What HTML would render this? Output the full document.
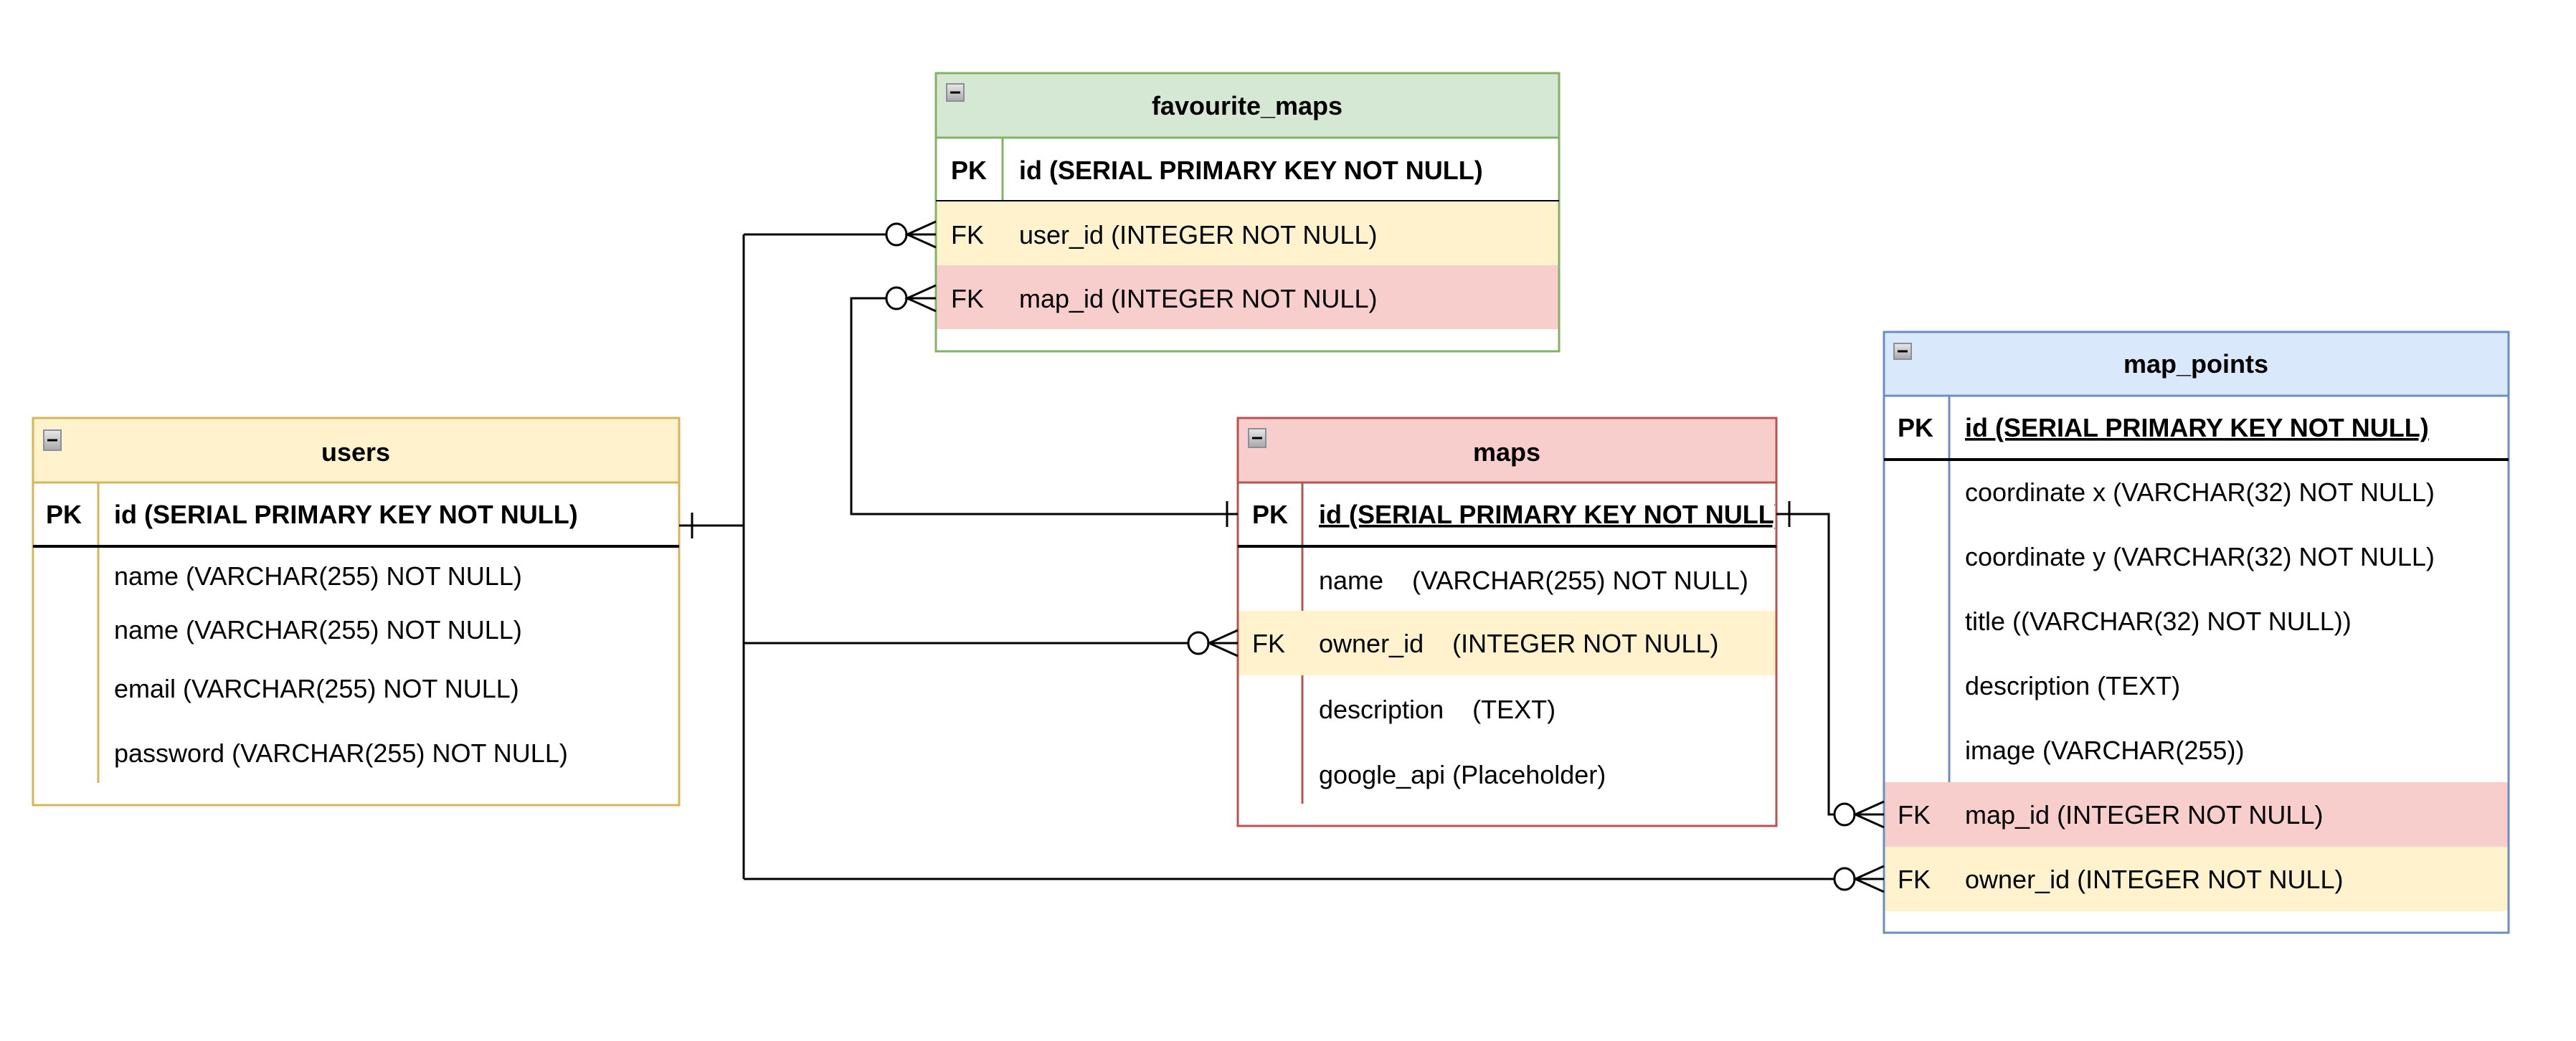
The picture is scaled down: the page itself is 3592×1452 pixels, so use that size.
<!DOCTYPE html>
<html><head><meta charset="utf-8"><style>html,body{margin:0;padding:0;background:#fff}svg{display:block}</style></head>
<body>
<svg width="3592" height="1452" viewBox="0 0 3592 1452" xmlns="http://www.w3.org/2000/svg" font-family="'Liberation Sans', Arial, sans-serif" font-size="36">
<defs>
<clipPath id="mc"><rect x="1816" y="673" width="659" height="89"/></clipPath>
<linearGradient id="ig" x1="0" y1="0" x2="0" y2="1"><stop offset="0" stop-color="#e8e8e8"/><stop offset="1" stop-color="#a8a8a8"/></linearGradient>
</defs>
<rect width="3592" height="1452" fill="#fff"/>

<!-- users -->
<rect x="46" y="583" width="901" height="540" fill="#fff" stroke="#d6b656" stroke-width="3"/>
<rect x="46" y="583" width="901" height="90" fill="#fff2cc" stroke="#d6b656" stroke-width="3"/>
<line x1="137" y1="673" x2="137" y2="1092" stroke="#d6b656" stroke-width="3"/>
<line x1="46" y1="762" x2="947" y2="762" stroke="#000" stroke-width="4"/>
<rect x="61" y="600" width="24" height="28" fill="url(#ig)" stroke="#8a8f99" stroke-width="2"/><line x1="66" y1="614" x2="80" y2="614" stroke="#000" stroke-width="3"/>
<text x="496" y="643" text-anchor="middle" font-weight="bold">users</text>
<text x="64" y="730" font-weight="bold">PK</text>
<text x="159" y="730" font-weight="bold">id (SERIAL PRIMARY KEY NOT NULL)</text>
<text x="159" y="816">name (VARCHAR(255) NOT NULL)</text>
<text x="159" y="891">name (VARCHAR(255) NOT NULL)</text>
<text x="159" y="973">email (VARCHAR(255) NOT NULL)</text>
<text x="159" y="1063">password (VARCHAR(255) NOT NULL)</text>

<!-- favourite_maps -->
<rect x="1305" y="102" width="869" height="388" fill="#fff" stroke="#82b366" stroke-width="3"/>
<rect x="1305" y="102" width="869" height="90" fill="#d5e8d4" stroke="#82b366" stroke-width="3"/>
<rect x="1306.5" y="280" width="866" height="90" fill="#fff2cc"/>
<rect x="1306.5" y="370" width="866" height="89" fill="#f8cecc"/>
<line x1="1398" y1="192" x2="1398" y2="280" stroke="#82b366" stroke-width="3"/>
<line x1="1305" y1="280" x2="2174" y2="280" stroke="#000" stroke-width="2"/>
<rect x="1320" y="117" width="24" height="24" fill="url(#ig)" stroke="#8a8f99" stroke-width="2"/><line x1="1325" y1="129" x2="1339" y2="129" stroke="#000" stroke-width="3"/>
<text x="1739" y="160" text-anchor="middle" font-weight="bold">favourite_maps</text>
<text x="1326" y="250" font-weight="bold">PK</text>
<text x="1421" y="250" font-weight="bold">id (SERIAL PRIMARY KEY NOT NULL)</text>
<text x="1326" y="340">FK</text>
<text x="1421" y="340">user_id (INTEGER NOT NULL)</text>
<text x="1326" y="429">FK</text>
<text x="1421" y="429">map_id (INTEGER NOT NULL)</text>

<!-- maps -->
<rect x="1726" y="583" width="751" height="569" fill="#fff" stroke="#b85450" stroke-width="3"/>
<rect x="1726" y="583" width="751" height="90" fill="#f8cecc" stroke="#b85450" stroke-width="3"/>
<rect x="1727.5" y="852" width="748" height="90" fill="#fff2cc"/>
<line x1="1816" y1="673" x2="1816" y2="852" stroke="#b85450" stroke-width="3"/>
<line x1="1816" y1="942" x2="1816" y2="1121" stroke="#b85450" stroke-width="3"/>
<line x1="1726" y1="762" x2="2477" y2="762" stroke="#000" stroke-width="4"/>
<rect x="1741" y="598" width="24" height="26" fill="url(#ig)" stroke="#8a8f99" stroke-width="2"/><line x1="1746" y1="611" x2="1760" y2="611" stroke="#000" stroke-width="3"/>
<text x="2101" y="643" text-anchor="middle" font-weight="bold">maps</text>
<text x="1746" y="730" font-weight="bold">PK</text>
<text x="1839" y="730" font-weight="bold" text-decoration="underline" clip-path="url(#mc)">id (SERIAL PRIMARY KEY NOT NULL)</text>
<text x="1839" y="822" xml:space="preserve">name    (VARCHAR(255) NOT NULL)</text>
<text x="1746" y="910">FK</text>
<text x="1839" y="910" xml:space="preserve">owner_id    (INTEGER NOT NULL)</text>
<text x="1839" y="1002" xml:space="preserve">description    (TEXT)</text>
<text x="1839" y="1093">google_api (Placeholder)</text>

<!-- map_points -->
<rect x="2627" y="463" width="871" height="838" fill="#fff" stroke="#6c8ebf" stroke-width="3"/>
<rect x="2627" y="463" width="871" height="89" fill="#dae8fc" stroke="#6c8ebf" stroke-width="3"/>
<rect x="2628.5" y="1091" width="868" height="90" fill="#f8cecc"/>
<rect x="2628.5" y="1181" width="868" height="90" fill="#fff2cc"/>
<line x1="2718" y1="552" x2="2718" y2="1091" stroke="#6c8ebf" stroke-width="3"/>
<line x1="2627" y1="641" x2="3498" y2="641" stroke="#000" stroke-width="4"/>
<rect x="2641" y="479" width="24" height="22" fill="url(#ig)" stroke="#8a8f99" stroke-width="2"/><line x1="2646" y1="490" x2="2660" y2="490" stroke="#000" stroke-width="3"/>
<text x="3062" y="520" text-anchor="middle" font-weight="bold">map_points</text>
<text x="2646" y="609" font-weight="bold">PK</text>
<text x="2740" y="609" font-weight="bold" text-decoration="underline">id (SERIAL PRIMARY KEY NOT NULL)</text>
<text x="2740" y="699">coordinate x (VARCHAR(32) NOT NULL)</text>
<text x="2740" y="789">coordinate y (VARCHAR(32) NOT NULL)</text>
<text x="2740" y="879">title ((VARCHAR(32) NOT NULL))</text>
<text x="2740" y="969">description (TEXT)</text>
<text x="2740" y="1059">image (VARCHAR(255))</text>
<text x="2646" y="1149">FK</text>
<text x="2740" y="1149">map_id (INTEGER NOT NULL)</text>
<text x="2646" y="1239">FK</text>
<text x="2740" y="1239">owner_id (INTEGER NOT NULL)</text>

<!-- connectors -->
<g fill="none" stroke="#000" stroke-width="3">
<polyline points="947,733 1037,733"/>
<line x1="965" y1="715" x2="965" y2="751"/>
<line x1="1037" y1="327" x2="1037" y2="1226"/>
<line x1="1037" y1="327" x2="1236" y2="327"/>
<ellipse cx="1250" cy="327" rx="14" ry="15" fill="#fff"/>
<polyline points="1305,309 1265,327 1305,345"/><line x1="1264" y1="327" x2="1305" y2="327"/>
<line x1="1037" y1="897" x2="1657" y2="897"/>
<ellipse cx="1671" cy="897" rx="14" ry="15" fill="#fff"/>
<polyline points="1726,879 1686,897 1726,915"/><line x1="1685" y1="897" x2="1726" y2="897"/>
<line x1="1037" y1="1226" x2="2558" y2="1226"/>
<ellipse cx="2572" cy="1226" rx="14" ry="15" fill="#fff"/>
<polyline points="2627,1208 2587,1226 2627,1244"/><line x1="2586" y1="1226" x2="2627" y2="1226"/>
<polyline points="1726,717 1187,717 1187,416 1236,416"/>
<line x1="1711" y1="699" x2="1711" y2="735"/>
<ellipse cx="1250" cy="416" rx="14" ry="15" fill="#fff"/>
<polyline points="1305,398 1265,416 1305,434"/><line x1="1264" y1="416" x2="1305" y2="416"/>
<polyline points="2477,717 2550,717 2550,1136 2558,1136"/>
<line x1="2495" y1="699" x2="2495" y2="735"/>
<ellipse cx="2572" cy="1136" rx="14" ry="15" fill="#fff"/>
<polyline points="2627,1118 2587,1136 2627,1154"/><line x1="2586" y1="1136" x2="2627" y2="1136"/>
</g>
</svg>
</body></html>
